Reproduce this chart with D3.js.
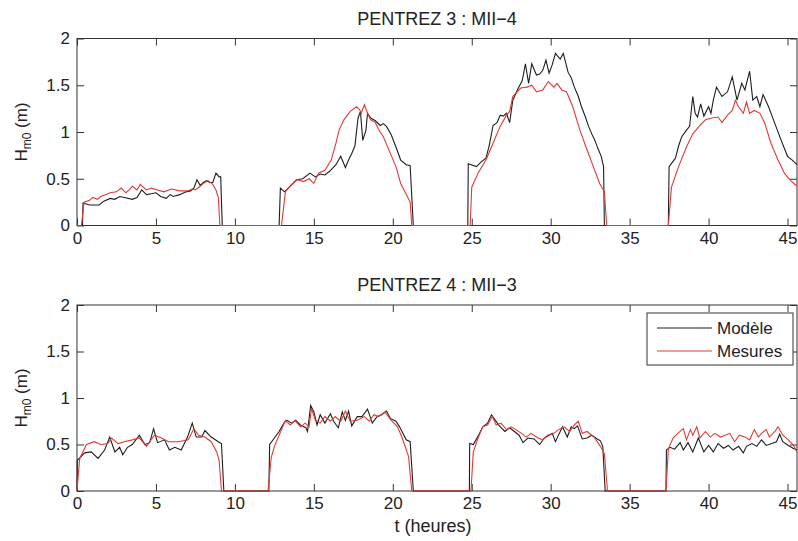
<!DOCTYPE html>
<html lang="fr">
<head>
<meta charset="UTF-8">
<script src="https://d3js.org/d3.v7.min.js"></script>
<style>
  body { margin: 0; background: #fff; }
  svg { display: block; font-family: "Liberation Sans", Arial, sans-serif; }
  .axis text { font-size: 17px; fill: #222; }
  .axis path, .axis line { stroke: #333; }
</style>
</head>
<body>
<svg width="798" height="541"></svg>
<script>
const xTicks = [0, 5, 10, 15, 20, 25, 30, 35, 40, 45];
const yTicks = [0, 0.5, 1, 1.5, 2];
const seriesNames = ["Modèle", "Mesures"];
const seriesColors = ["#1e1e1e", "#e03a36"];

const p3Modele = [[0,0],[0.35,0],[0.38,0.24],[0.8,0.22],[1.4,0.22],[1.7,0.26],[2.1,0.29],[2.4,0.28],[2.7,0.31],[3.0,0.30],[3.5,0.28],[3.8,0.30],[4.1,0.38],[4.4,0.33],[4.7,0.34],[5.0,0.35],[5.3,0.31],[5.65,0.29],[5.9,0.33],[6.1,0.31],[6.5,0.33],[6.9,0.36],[7.2,0.37],[7.4,0.40],[7.6,0.49],[7.8,0.43],[8.0,0.46],[8.2,0.48],[8.4,0.46],[8.6,0.46],[8.8,0.56],[9.0,0.52],[9.1,0.52],[9.2,0],
  [12.8,0],[12.88,0.40],[13.15,0.36],[13.5,0.42],[13.9,0.49],[14.3,0.50],[14.75,0.56],[15.1,0.52],[15.4,0.55],[15.7,0.54],[16.0,0.58],[16.4,0.65],[16.7,0.74],[17.0,0.62],[17.2,0.70],[17.4,0.77],[17.6,0.85],[17.8,1.15],[17.95,1.22],[18.1,0.91],[18.3,1.02],[18.4,1.20],[18.6,1.15],[18.9,1.12],[19.2,1.07],[19.4,1.09],[19.6,1.06],[19.9,0.97],[20.2,0.84],[20.5,0.70],[20.85,0.65],[21.1,0.64],[21.3,0],
  [24.75,0],[24.78,0.66],[25.3,0.63],[25.6,0.68],[25.9,0.72],[26.1,0.85],[26.35,1.07],[26.6,1.10],[26.8,1.18],[27.0,1.17],[27.2,1.20],[27.4,1.10],[27.6,1.34],[27.95,1.47],[28.2,1.55],[28.4,1.73],[28.6,1.52],[28.8,1.73],[29.1,1.61],[29.3,1.62],[29.5,1.66],[29.7,1.77],[29.9,1.63],[30.1,1.72],[30.3,1.84],[30.6,1.78],[30.8,1.84],[31.1,1.64],[31.3,1.58],[31.5,1.48],[31.75,1.38],[31.95,1.27],[32.2,1.16],[32.4,1.06],[32.6,0.98],[32.8,0.91],[33.0,0.82],[33.2,0.74],[33.35,0.63],[33.4,0],
  [37.45,0],[37.5,0.63],[37.9,0.72],[38.1,0.85],[38.3,0.95],[38.6,1.02],[38.8,1.06],[39.0,1.38],[39.15,1.20],[39.3,1.16],[39.5,1.30],[39.7,1.17],[40.0,1.27],[40.15,1.20],[40.3,1.34],[40.5,1.48],[40.85,1.38],[41.2,1.43],[41.5,1.59],[41.8,1.34],[42.1,1.52],[42.3,1.45],[42.6,1.65],[42.8,1.34],[43.05,1.38],[43.25,1.27],[43.45,1.40],[43.8,1.27],[44.0,1.18],[44.2,1.09],[44.6,0.91],[45.0,0.74],[45.3,0.70],[45.6,0.65]];

const p3Mesures = [[0,0],[0.28,0],[0.45,0.25],[0.8,0.27],[1.0,0.30],[1.3,0.28],[1.5,0.31],[1.8,0.33],[2.1,0.35],[2.5,0.36],[2.8,0.40],[3.1,0.35],[3.3,0.38],[3.5,0.42],[3.8,0.38],[4.0,0.44],[4.4,0.38],[4.7,0.40],[5.1,0.38],[5.5,0.36],[6.0,0.39],[6.5,0.37],[7.0,0.37],[7.3,0.39],[7.5,0.38],[7.8,0.42],[8.0,0.45],[8.3,0.48],[8.6,0.44],[8.8,0.38],[8.95,0.30],[9.05,0],
  [12.95,0],[13.2,0.36],[13.5,0.42],[13.95,0.49],[14.35,0.47],[14.7,0.50],[15.0,0.45],[15.3,0.56],[15.7,0.59],[16.1,0.70],[16.4,0.88],[16.6,1.02],[16.9,1.13],[17.3,1.22],[17.7,1.27],[17.9,1.24],[18.0,1.20],[18.2,1.29],[18.4,1.20],[18.6,1.13],[18.9,1.10],[19.1,1.03],[19.4,0.95],[19.8,0.79],[20.2,0.63],[20.5,0.45],[20.8,0.35],[21.1,0.25],[21.2,0],
  [24.9,0],[25.0,0.41],[25.4,0.56],[25.9,0.70],[26.35,0.88],[26.8,1.06],[27.2,1.18],[27.4,1.22],[27.6,1.38],[28.1,1.47],[28.5,1.48],[28.8,1.50],[29.1,1.43],[29.5,1.45],[29.85,1.54],[30.2,1.48],[30.4,1.52],[30.7,1.45],[31.0,1.43],[31.4,1.27],[31.85,1.02],[32.3,0.81],[32.7,0.63],[33.1,0.45],[33.4,0.36],[33.55,0],
  [37.45,0],[37.65,0.41],[38.1,0.63],[38.6,0.84],[39.0,0.98],[39.4,1.06],[39.8,1.13],[40.2,1.15],[40.6,1.16],[40.85,1.10],[41.2,1.18],[41.5,1.23],[41.7,1.34],[41.9,1.27],[42.2,1.20],[42.4,1.32],[42.6,1.20],[42.9,1.23],[43.25,1.20],[43.55,1.10],[43.95,0.88],[44.4,0.70],[44.8,0.56],[45.2,0.48],[45.6,0.42]];

const p4Modele = [[0,0],[0.02,0.33],[0.49,0.41],[0.9,0.42],[1.33,0.35],[1.75,0.44],[2.07,0.58],[2.4,0.42],[2.7,0.47],[2.9,0.39],[3.2,0.47],[3.5,0.50],[3.95,0.60],[4.3,0.50],[4.6,0.52],[4.85,0.67],[5.1,0.52],[5.55,0.55],[5.85,0.44],[6.2,0.47],[6.6,0.44],[7.0,0.58],[7.3,0.73],[7.55,0.58],[7.9,0.58],[8.1,0.65],[8.5,0.58],[8.95,0.53],[9.15,0.51],[9.3,0],
  [12.15,0],[12.2,0.50],[12.5,0.57],[12.8,0.64],[13.1,0.73],[13.3,0.76],[13.6,0.73],[13.85,0.76],[14.15,0.71],[14.5,0.68],[14.6,0.64],[14.8,0.92],[15.0,0.85],[15.2,0.71],[15.4,0.82],[15.7,0.73],[16.05,0.83],[16.25,0.75],[16.55,0.68],[16.8,0.85],[17.0,0.76],[17.2,0.86],[17.4,0.70],[17.75,0.80],[18.05,0.80],[18.4,0.88],[18.7,0.73],[19.0,0.80],[19.3,0.82],[19.6,0.86],[19.85,0.78],[20.2,0.75],[20.43,0.69],[20.85,0.55],[21.1,0.53],[21.3,0],
  [24.85,0],[24.87,0.51],[25.1,0.50],[25.4,0.59],[25.7,0.69],[26.0,0.73],[26.25,0.82],[26.45,0.77],[26.75,0.70],[27.1,0.64],[27.4,0.68],[27.7,0.64],[28.0,0.60],[28.25,0.52],[28.55,0.57],[28.95,0.56],[29.3,0.50],[29.6,0.57],[29.9,0.60],[30.1,0.62],[30.3,0.53],[30.55,0.62],[30.75,0.69],[31.05,0.58],[31.3,0.69],[31.5,0.67],[31.7,0.70],[32.0,0.56],[32.3,0.57],[32.6,0.60],[32.95,0.56],[33.15,0.54],[33.3,0.48],[33.45,0],
  [37.3,0],[37.33,0.44],[37.55,0.47],[37.85,0.45],[38.2,0.52],[38.4,0.44],[38.7,0.52],[39.0,0.42],[39.35,0.57],[39.7,0.42],[40.0,0.49],[40.3,0.42],[40.6,0.51],[40.95,0.46],[41.25,0.49],[41.55,0.44],[41.9,0.48],[42.2,0.41],[42.4,0.48],[42.75,0.51],[43.05,0.48],[43.35,0.55],[43.65,0.49],[44.0,0.51],[44.3,0.53],[44.5,0.61],[44.7,0.53],[45.05,0.49],[45.35,0.46],[45.6,0.44]];

const p4Mesures = [[0,0],[0.17,0.35],[0.6,0.50],[1.1,0.53],[1.5,0.50],[1.95,0.51],[2.2,0.57],[2.6,0.51],[3.0,0.53],[3.5,0.55],[3.95,0.57],[4.4,0.48],[4.9,0.60],[5.35,0.57],[5.8,0.53],[6.4,0.53],[7.05,0.55],[7.4,0.67],[7.7,0.60],[8.1,0.58],[8.5,0.53],[8.85,0.42],[9.0,0.33],[9.15,0],
  [12.1,0],[12.3,0.36],[12.5,0.48],[12.9,0.64],[13.2,0.76],[13.5,0.71],[13.8,0.76],[14.15,0.69],[14.45,0.73],[14.7,0.69],[14.85,0.89],[15.1,0.76],[15.4,0.73],[15.7,0.80],[16.05,0.75],[16.35,0.80],[16.7,0.75],[17.0,0.86],[17.3,0.75],[17.75,0.76],[18.2,0.80],[18.5,0.75],[18.8,0.82],[19.1,0.80],[19.5,0.85],[19.85,0.77],[20.3,0.69],[20.6,0.57],[21.0,0.37],[21.2,0],
  [24.95,0],[25.1,0.42],[25.4,0.57],[25.7,0.69],[26.0,0.71],[26.3,0.80],[26.55,0.71],[26.85,0.73],[27.2,0.66],[27.5,0.69],[27.8,0.66],[28.15,0.62],[28.45,0.58],[28.75,0.62],[29.2,0.57],[29.5,0.55],[29.8,0.60],[30.2,0.62],[30.5,0.66],[30.85,0.69],[31.2,0.64],[31.5,0.71],[31.75,0.75],[32.0,0.62],[32.3,0.64],[32.75,0.58],[33.15,0.48],[33.4,0.40],[33.6,0],
  [37.3,0],[37.45,0.45],[37.75,0.57],[38.05,0.62],[38.4,0.67],[38.6,0.55],[38.85,0.66],[39.0,0.60],[39.25,0.69],[39.45,0.57],[39.8,0.64],[40.1,0.58],[40.4,0.62],[40.75,0.58],[41.05,0.60],[41.35,0.62],[41.65,0.53],[41.95,0.60],[42.3,0.58],[42.6,0.55],[42.9,0.66],[43.15,0.58],[43.35,0.62],[43.65,0.66],[43.85,0.58],[44.2,0.64],[44.4,0.69],[44.7,0.60],[45.05,0.55],[45.35,0.50],[45.6,0.42]];

const svg = d3.select("svg");
const left = 77, right = 797;
const x = d3.scaleLinear().domain([0, 45.6]).range([left, right]);

function panel(top, bottom, title, modele, mesures, showLegend, showXLabel) {
  const y = d3.scaleLinear().domain([0, 2]).range([bottom, top]);
  const g = svg.append("g");

  g.append("rect").attr("x", left).attr("y", top)
    .attr("width", right - left).attr("height", bottom - top)
    .attr("fill", "white").attr("stroke", "#333");

  g.append("g").attr("class", "axis").attr("transform", "translate(0," + bottom + ")")
    .call(d3.axisBottom(x).tickValues(xTicks).tickSizeInner(-7).tickSizeOuter(0).tickPadding(6))
    .call(a => a.select(".domain").remove());
  g.append("g").attr("class", "axis").attr("transform", "translate(0," + top + ")")
    .call(d3.axisTop(x).tickValues(xTicks).tickSizeInner(-7).tickSizeOuter(0).tickFormat(""))
    .call(a => a.select(".domain").remove());
  g.append("g").attr("class", "axis").attr("transform", "translate(" + left + ",0)")
    .call(d3.axisLeft(y).tickValues(yTicks).tickSizeInner(-7).tickSizeOuter(0).tickPadding(7).tickFormat(d3.format("~g")))
    .call(a => a.select(".domain").remove());
  g.append("g").attr("class", "axis").attr("transform", "translate(" + right + ",0)")
    .call(d3.axisRight(y).tickValues(yTicks).tickSizeInner(-7).tickSizeOuter(0).tickFormat(""))
    .call(a => a.select(".domain").remove());

  // courbes au-dessus des axes, comme dans la figure (le rouge recouvre le zéro)
  const line = d3.line().x(d => x(d[0])).y(d => y(d[1]));
  [modele, mesures].forEach((s, i) => {
    g.append("path").datum(s).attr("d", line)
      .attr("fill", "none").attr("stroke", seriesColors[i]).attr("stroke-width", 1.1);
  });

  g.append("text").attr("x", (left + right) / 2).attr("y", top - 14)
    .attr("text-anchor", "middle").style("font-size", "18px").attr("fill", "#222")
    .text(title);

  const yl = g.append("text")
    .attr("transform", "translate(27," + ((top + bottom) / 2) + ") rotate(-90)")
    .attr("text-anchor", "middle").style("font-size", "17px").attr("fill", "#222");
  yl.append("tspan").text("H");
  yl.append("tspan").attr("dy", 4).style("font-size", "12px").text("m0");
  yl.append("tspan").attr("dy", -4).text(" (m)");

  if (showXLabel) {
    g.append("text").attr("x", (left + right) / 2 - 4).attr("y", bottom + 41)
      .attr("text-anchor", "middle").style("font-size", "18px").attr("fill", "#222")
      .text("t (heures)");
  }

  if (showLegend) {
    const lg = g.append("g").attr("transform", "translate(647,313)");
    lg.append("rect").attr("width", 146).attr("height", 52)
      .attr("fill", "white").attr("stroke", "#333");
    seriesNames.forEach((n, i) => {
      const yy = 15 + i * 23;
      lg.append("line").attr("x1", 10).attr("x2", 65).attr("y1", yy).attr("y2", yy)
        .attr("stroke", seriesColors[i]).attr("stroke-width", 1.1);
      lg.append("text").attr("x", 70).attr("y", yy + 6).style("font-size", "17px")
        .attr("fill", "#222").text(n);
    });
  }
}

panel(38.5, 225.5, "PENTREZ 3 : MII\u22124", p3Modele, p3Mesures, false, false);
panel(305, 491, "PENTREZ 4 : MII\u22123", p4Modele, p4Mesures, true, true);
</script>
</body>
</html>
